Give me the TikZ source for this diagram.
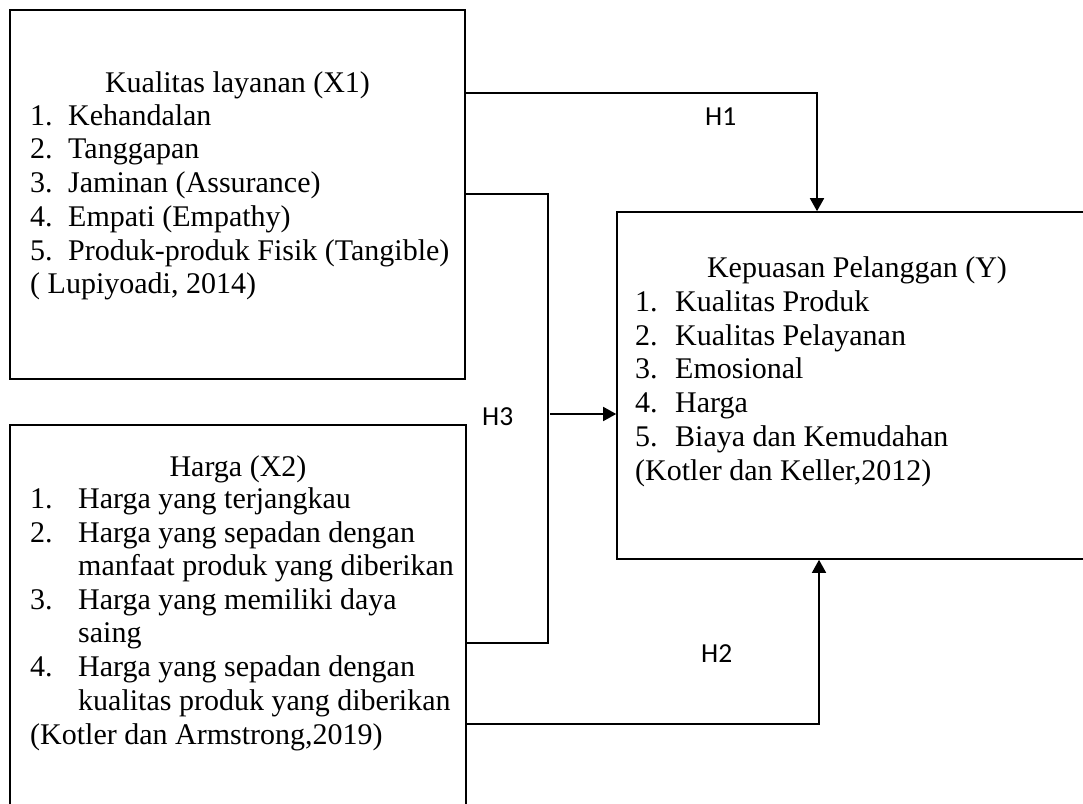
\documentclass[tikz,border=0pt]{standalone}
\usepackage{fontspec}
\setmainfont{Liberation Serif}
\newfontfamily\labelfont{Carlito}
\usetikzlibrary{arrows.meta}
\begin{document}
\begin{tikzpicture}[x=1pt,y=-1pt,
 box/.style={draw, line width=1.6pt, rectangle, inner sep=0pt},
 txt/.style={anchor=base west, inner sep=0pt, font=\fontsize{30}{33.5}\selectfont},
 ttl/.style={anchor=base, inner sep=0pt, font=\fontsize{30}{33.5}\selectfont},
 hlabel/.style={anchor=base west, inner sep=0pt, font=\labelfont\fontsize{27.5}{33}\selectfont},
 conn/.style={line width=1.6pt},
 arr/.style={conn, -{Triangle[width=14pt,length=13pt]}}]
\useasboundingbox (0,0) rectangle (1083,803);
\clip (0,0) rectangle (1083,803);
% boxes
\node[box, minimum width=455pt, minimum height=369pt] (x1) at (237.5,194.5) {};
\node[box, minimum width=456pt, minimum height=430pt] (x2) at (238,640) {};
\node[box, minimum width=513pt, minimum height=347pt] (y) at (873.5,385.5) {};
% X1 text
\node[ttl] (x1t) at (237.5,92) {Kualitas layanan (X1)};
\foreach \n/\t/\yy in {1/Kehandalan/125, 2/Tanggapan/158.5, 3/Jaminan (Assurance)/192.5, 4/Empati (Empathy)/226, 5/Produk-produk Fisik (Tangible)/260} {
  \node[txt] (x1n\n) at (30,\yy) {\n.};
  \node[txt] (x1i\n) at (68,\yy) {\t};
}
\node[txt] (x1r) at (30,293) {( Lupiyoadi, 2014)};
% X2 text
\node[ttl] (x2t) at (238,476) {Harga (X2)};
\node[txt] (x2n1) at (30,508) {1.};
\node[txt] (x2i1) at (78,508) {Harga yang terjangkau};
\node[txt] (x2n2) at (30,542) {2.};
\node[txt] (x2i2) at (78,542) {Harga yang sepadan dengan};
\node[txt] (x2i2b) at (78,575.5) {manfaat produk yang diberikan};
\node[txt] (x2n3) at (30,609) {3.};
\node[txt] (x2i3) at (78,609) {Harga yang memiliki daya};
\node[txt] (x2i3b) at (78,642.5) {saing};
\node[txt] (x2n4) at (30,676.5) {4.};
\node[txt] (x2i4) at (78,676.5) {Harga yang sepadan dengan};
\node[txt] (x2i4b) at (78,710) {kualitas produk yang diberikan};
\node[txt] (x2r) at (30,744) {(Kotler dan Armstrong,2019)};
% Y text
\node[ttl] (yt) at (857,277) {Kepuasan Pelanggan (Y)};
\foreach \n/\t/\yy in {1/Kualitas Produk/311.5, 2/Kualitas Pelayanan/345, 3/Emosional/378.5, 4/Harga/412, 5/Biaya dan Kemudahan/446} {
  \node[txt] (yn\n) at (635,\yy) {\n.};
  \node[txt] (yi\n) at (675,\yy) {\t};
}
\node[txt] (yr) at (635,480) {(Kotler dan Keller,2012)};
% connectors
\coordinate (h1c) at (817,93);
\draw[arr] (x1.east |- h1c) -- (h1c) -- (h1c |- y.north);
\coordinate (h3a) at (548,194);
\coordinate (h3b) at (548,643);
\draw[conn] (x1.east |- h3a) -- (h3a) -- (h3b) -- (x2.east |- h3b);
\coordinate (h3s) at (550,414);
\draw[arr] (h3s) -- (y.west |- h3s);
\coordinate (h2c) at (819,724);
\draw[arr] (x2.east |- h2c) -- (h2c) -- (h2c |- y.south);
% labels
\node[hlabel] (lh1) at (705,125) {H1};
\node[hlabel] (lh3) at (482,425) {H3};
\node[hlabel] (lh2) at (701,662) {H2};
\end{tikzpicture}
\end{document}
